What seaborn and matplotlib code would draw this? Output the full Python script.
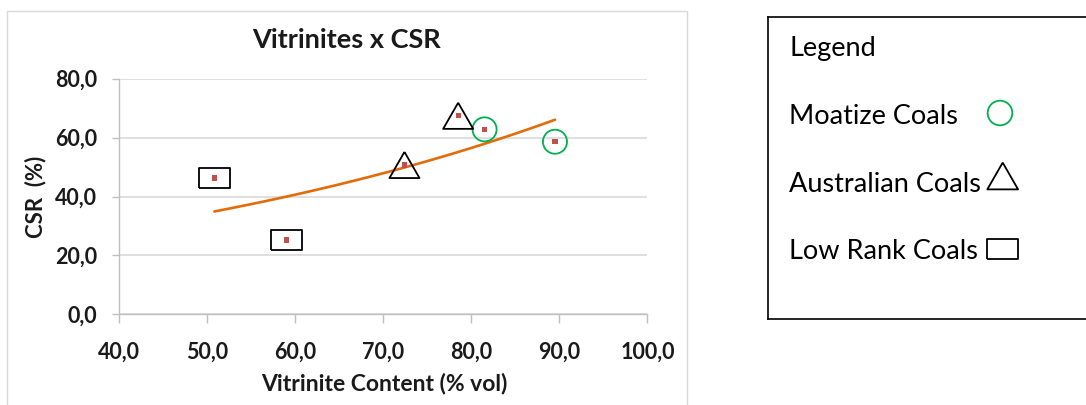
import numpy as np
import pandas as pd
import matplotlib
matplotlib.use("Agg")
import matplotlib.pyplot as plt
from matplotlib.patches import Rectangle
from matplotlib.ticker import FuncFormatter, MultipleLocator
import seaborn as sns

# data
vitrinite = [50.8, 59.0, 72.4, 78.5, 81.5, 89.5]
csr = [46.3, 25.2, 50.7, 67.4, 62.8, 58.6]
coal_group = ["Low Rank", "Low Rank", "Australian", "Australian", "Moatize", "Moatize"]

legend_labels = ["Moatize Coals", "Australian Coals", "Low Rank Coals"]

sns.set_theme(style="white")
plt.rcParams["font.family"] = ["Lato", "DejaVu Sans"]

df = pd.DataFrame({"vitrinite": vitrinite, "csr": csr, "group": coal_group})

# exponential trendline (least squares on log y, like excel)
b, ln_a = np.polyfit(df["vitrinite"], np.log(df["csr"]), 1)
trend = pd.DataFrame({"vitrinite": np.linspace(df["vitrinite"].min(), df["vitrinite"].max(), 100)})
trend["csr"] = np.exp(ln_a) * np.exp(b * trend["vitrinite"])

W, H = 1086, 405
fig = plt.figure(figsize=(W / 100, H / 100), dpi=100)
fig.patch.set_facecolor("white")

# outer chart frame
fig.patches.append(Rectangle((7 / W, -0.1), 680 / W, 1 - 11 / H + 0.1, transform=fig.transFigure,
                             fill=False, edgecolor="#D9D9D9", linewidth=1.0))

ax = fig.add_axes([119.3 / W, 1 - 314.3 / H, 528.1 / W, 235.6 / H])

tri = [(0, 0.87), (-1, -0.87), (1, -0.87), (0, 0.87)]
rect = [(-1, -0.66), (1, -0.66), (1, 0.66), (-1, 0.66), (-1, -0.66)]
shape = {"Moatize": ("o", 300, "#00B050"), "Australian": (tri, 467, "black"), "Low Rank": (rect, 497, "black")}

sns.lineplot(data=trend, x="vitrinite", y="csr", ax=ax, color="#E36C09", linewidth=1.9, zorder=3)
for g, (m, s, c) in shape.items():
    sub = df[df["group"] == g]
    sns.scatterplot(data=sub, x="vitrinite", y="csr", ax=ax, marker=m, s=s, facecolor="none",
                    edgecolor=c, linewidth=1.3, zorder=4)
sns.scatterplot(data=df, x="vitrinite", y="csr", ax=ax, marker="s", s=14, color="#C0504D",
                edgecolor="none", zorder=5)

ax.set_xlim(40, 100)
ax.set_ylim(0, 80)
ax.xaxis.set_major_locator(MultipleLocator(10))
ax.yaxis.set_major_locator(MultipleLocator(20))
fmt = FuncFormatter(lambda v, p: f"{v:.1f}".replace(".", ","))
ax.xaxis.set_major_formatter(fmt)
ax.yaxis.set_major_formatter(fmt)
ax.grid(axis="y", color="#D9D9D9", linewidth=1.2)
ax.grid(axis="x", visible=False)
for sp in ["top", "right"]:
    ax.spines[sp].set_visible(False)
for sp in ["left", "bottom"]:
    ax.spines[sp].set_color("#BFBFBF")
    ax.spines[sp].set_linewidth(1.0)
ax.tick_params(axis="x", direction="out", length=6.5, width=1, color="#BFBFBF", pad=13,
               labelsize=15.5, labelcolor="#1a1a1a", bottom=True)
ax.tick_params(axis="y", direction="out", length=5, width=1, color="#BFBFBF", pad=11,
               labelsize=15.5, labelcolor="#1a1a1a", left=True)
for lab in ax.get_xticklabels() + ax.get_yticklabels():
    lab.set_fontweight("bold")
ax.set_xlabel("")
ax.set_ylabel("")

fig.text(346.5 / W, 1 - 47.7 / H, "Vitrinites x CSR", ha="center", va="baseline",
         fontsize=19.5, fontweight="bold", color="#1a1a1a")
fig.text(384.5 / W, 1 - 390 / H, "Vitrinite Content (% vol)", ha="center", va="baseline",
         fontsize=16.5, fontweight="bold", color="#1a1a1a")
fig.text(35.8 / W, 1 - 196.5 / H, "CSR  (%)", ha="center", va="center", rotation=90,
         fontsize=16, fontweight="bold", color="#1a1a1a")

# legend panel drawn in pixel coordinates
lx0, ly0, lx1, ly1 = 767.7, 17.3, 1100, 319
lax = fig.add_axes([lx0 / W, 1 - ly1 / H, (lx1 - lx0) / W, (ly1 - ly0) / H])
lax.set_xlim(lx0, lx1)
lax.set_ylim(ly1, ly0)
lax.set_xticks([])
lax.set_yticks([])
lax.set_facecolor("white")
for sp in lax.spines.values():
    sp.set_color("black")
    sp.set_linewidth(1.2)

lax.text(789.3, 56, "Legend", ha="left", va="baseline", fontsize=19.5, color="black")
text_y = [124, 192, 259]
sym_x = [1000, 1002.7, 1002.5]
sym_y = [113, 176, 249]
for lab, ty, sx, sy, g in zip(legend_labels, text_y, sym_x, sym_y, ["Moatize", "Australian", "Low Rank"]):
    lax.text(789.3, ty, lab, ha="left", va="baseline", fontsize=19.5, color="black")
    m, s, c = shape[g]
    lax.scatter([sx], [sy], marker=m, s=s * 1.05, facecolor="none", edgecolor=c, linewidth=1.3)

fig.savefig("out.png", dpi=100)
